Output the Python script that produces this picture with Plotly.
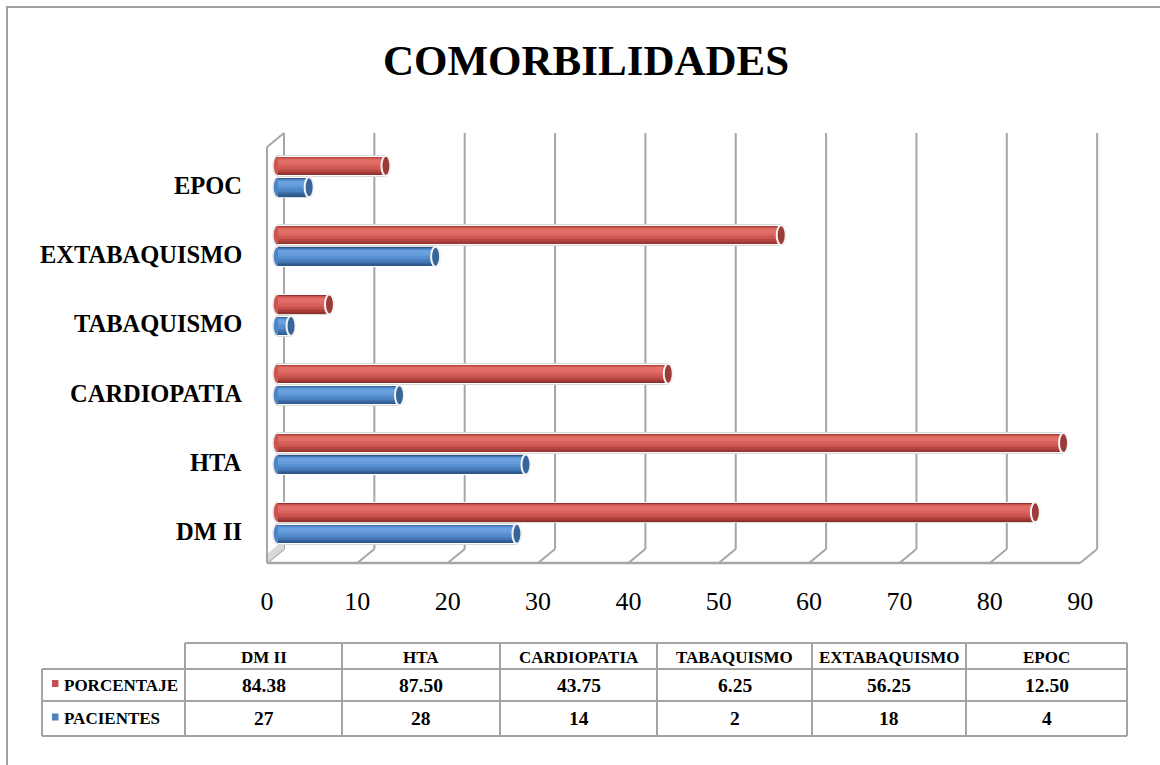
import plotly.graph_objects as go

# ---- data -------------------------------------------------------------
categorias = ["DM II", "HTA", "CARDIOPATIA", "TABAQUISMO", "EXTABAQUISMO", "EPOC"]
porcentaje = [84.38, 87.50, 43.75, 6.25, 56.25, 12.50]
pacientes = [27, 28, 14, 2, 18, 4]
series_nombres = ["PORCENTAJE", "PACIENTES"]
ticks_x = [0, 10, 20, 30, 40, 50, 60, 70, 80, 90]

# ---- geometry ---------------------------------------------------------
FIG_W, FIG_H = 1160, 765
ML, MR, MT, MB = 258, 50, 125, 195
X0_PX, SX = 273.0, 9.035      # pixel of value 0 on the bar plane, px per unit
Y0_PX, SY = 523.1, 69.3       # pixel of first category centre, px per category
FRONT_DX, BACK_DX = -6 / SX, 11 / SX


def vx(px):
    return (px - X0_PX) / SX


def cy(py):
    return (Y0_PX - py) / SY


def paper_x(px):
    return (px - ML) / (FIG_W - ML - MR)


def paper_y(py):
    return (FIG_H - MB - py) / (FIG_H - MT - MB)


FONT = "Liberation Serif"
GRID = "#a6a6a6"

fig = go.Figure()
shapes = []
annotations = []

# ---- 3D walls and floor -----------------------------------------------
y_front, y_back_bot, y_back_top, y_left_top = cy(563), cy(549), cy(133), cy(147)
for t in ticks_x:
    shapes.append(dict(type="line", xref="x", yref="y", layer="below",
                       x0=t + BACK_DX, x1=t + BACK_DX, y0=y_back_bot, y1=y_back_top,
                       line=dict(color=GRID, width=2)))
    shapes.append(dict(type="line", xref="x", yref="y", layer="below",
                       x0=t + FRONT_DX, x1=t + BACK_DX, y0=y_front, y1=y_back_bot,
                       line=dict(color=GRID, width=2)))
shapes.append(dict(type="line", xref="x", yref="y", layer="below",
                   x0=ticks_x[0] + FRONT_DX, x1=ticks_x[-1] + FRONT_DX, y0=y_front, y1=y_front,
                   line=dict(color=GRID, width=2.5)))
shapes.append(dict(type="path", xref="x", yref="y", layer="below",
                   path=(f"M {FRONT_DX},{y_front} L {BACK_DX},{y_back_bot} "
                         f"L {BACK_DX},{cy(540)} L {FRONT_DX},{cy(554)} Z"),
                   fillcolor="#d9d9d9", line=dict(width=0)))
shapes.append(dict(type="line", xref="x", yref="y", layer="below",
                   x0=FRONT_DX, x1=FRONT_DX, y0=y_front, y1=y_left_top,
                   line=dict(color=GRID, width=2)))
shapes.append(dict(type="line", xref="x", yref="y", layer="below",
                   x0=FRONT_DX, x1=BACK_DX, y0=y_left_top, y1=y_back_top,
                   line=dict(color=GRID, width=2)))

# ---- cylinder bars ----------------------------------------------------
BAR_W = 18.5 / SY        # coloured body thickness
WHITE_W = 20 / SY
GRAY_W = 21.5 / SY
CAP_R = 4.5 / SX         # half width of the end ellipse
OFFSETS = [0.155, -0.155]

palettes = [
    dict(dark=(148, 50, 46), mid=(205, 84, 79), light=(226, 110, 104), cap="#9b3c38"),
    dict(dark=(46, 88, 138), mid=(76, 132, 198), light=(106, 160, 222), cap="#376599"),
]


def mix(a, b, t):
    return "rgb(%d,%d,%d)" % tuple(round(a[i] + (b[i] - a[i]) * t) for i in range(3))


N_LAYERS = 8
for values, off, pal in zip([porcentaje, pacientes], OFFSETS, palettes):
    centres = [i + off for i in range(len(categorias))]
    lengths = [v - CAP_R for v in values]
    # light outline around each cylinder
    for w, col in [(GRAY_W, "#d8d8d8"), (WHITE_W, "#ffffff")]:
        fig.add_trace(go.Bar(orientation="h", y=centres, x=lengths, base=CAP_R,
                             width=w, marker=dict(color=col, line=dict(width=0)),
                             hoverinfo="skip", showlegend=False))
    # shaded body: nested bands converge towards the highlight
    for k in range(N_LAYERS):
        t = k / (N_LAYERS - 1)
        lo_trim = 0.62 * t * BAR_W
        hi_trim = 0.16 * t * BAR_W
        band_lo = -BAR_W / 2 + lo_trim
        band_hi = BAR_W / 2 - hi_trim
        col = mix(pal["dark"], pal["mid"], min(1.0, 2.2 * t)) if t < 0.46 else \
            mix(pal["mid"], pal["light"], (t - 0.46) / 0.54)
        fig.add_trace(go.Bar(orientation="h",
                             y=[c + (band_lo + band_hi) / 2 for c in centres],
                             x=lengths, base=CAP_R, width=band_hi - band_lo,
                             marker=dict(color=col, line=dict(width=0)),
                             hoverinfo="skip", showlegend=False))
    for c, v in zip(centres, values):
        # rounded start of the cylinder
        shapes.append(dict(type="circle", xref="x", yref="y", layer="between",
                           x0=0, x1=2 * CAP_R, y0=c - WHITE_W / 2, y1=c + WHITE_W / 2,
                           fillcolor=mix(pal["mid"], pal["mid"], 0),
                           line=dict(color="#e6e6e6", width=1.5)))
        # end face
        shapes.append(dict(type="circle", xref="x", yref="y", layer="above",
                           x0=v - CAP_R, x1=v + CAP_R, y0=c - WHITE_W / 2, y1=c + WHITE_W / 2,
                           fillcolor=pal["cap"], line=dict(color="#f4f4f4", width=2)))

# ---- category labels --------------------------------------------------
for i, name in enumerate(categorias):
    annotations.append(dict(text=name, xref="paper", yref="y", x=paper_x(244), y=i,
                            yshift=-8.5, xanchor="right", yanchor="middle", showarrow=False,
                            font=dict(family=FONT, size=24.5, color="black", weight="bold")))

# ---- title ------------------------------------------------------------
annotations.append(dict(text="COMORBILIDADES", xref="paper", yref="paper",
                        x=paper_x(585.5), y=paper_y(60), xanchor="center", yanchor="middle",
                        showarrow=False,
                        font=dict(family=FONT, size=43, color="black", weight="bold")))

# ---- data table -------------------------------------------------------
TBL = "#a3a3a3"
col_edges = [185, 342, 500, 657, 812, 966, 1127]
row_edges = [643, 669, 701, 736]
left_edge = 42


def pline(x0, y0, x1, y1):
    shapes.append(dict(type="line", xref="paper", yref="paper",
                       x0=paper_x(x0), x1=paper_x(x1), y0=paper_y(y0), y1=paper_y(y1),
                       line=dict(color=TBL, width=2)))


pline(col_edges[0], row_edges[0], col_edges[-1], row_edges[0])
for ry in row_edges[1:]:
    pline(left_edge, ry, col_edges[-1], ry)
for cx in col_edges:
    pline(cx, row_edges[0], cx, row_edges[-1])
pline(left_edge, row_edges[1], left_edge, row_edges[-1])

for j, name in enumerate(categorias):
    xc = (col_edges[j] + col_edges[j + 1]) / 2
    annotations.append(dict(text=name, xref="paper", yref="paper", x=paper_x(xc),
                            y=paper_y((row_edges[0] + row_edges[1]) / 2 + 1),
                            xanchor="center", yanchor="middle", showarrow=False,
                            font=dict(family=FONT, size=17, color="black", weight="bold")))

row_texts = [["%.2f" % v for v in porcentaje], ["%d" % v for v in pacientes]]
key_colors = ["#c0504d", "#4f81bd"]
for r in range(2):
    yc = (row_edges[r + 1] + row_edges[r + 2]) / 2
    shapes.append(dict(type="rect", xref="paper", yref="paper",
                       x0=paper_x(52), x1=paper_x(58.5), y0=paper_y(yc - 5), y1=paper_y(yc + 2),
                       fillcolor=key_colors[r], line=dict(width=0)))
    annotations.append(dict(text=series_nombres[r], xref="paper", yref="paper",
                            x=paper_x(62), y=paper_y(yc), xanchor="left", yanchor="middle",
                            showarrow=False,
                            font=dict(family=FONT, size=17, color="black", weight="bold")))
    for j, txt in enumerate(row_texts[r]):
        xc = (col_edges[j] + col_edges[j + 1]) / 2
        annotations.append(dict(text=txt, xref="paper", yref="paper", x=paper_x(xc),
                                y=paper_y(yc), xanchor="center", yanchor="middle",
                                showarrow=False,
                                font=dict(family=FONT, size=19.5, color="black", weight="bold")))

# ---- outer frame ------------------------------------------------------
shapes.append(dict(type="rect", xref="paper", yref="paper",
                   x0=paper_x(7), x1=paper_x(1175), y0=paper_y(7), y1=paper_y(780),
                   line=dict(color="#a0a0a0", width=2), fillcolor="rgba(0,0,0,0)"))

fig.update_layout(
    width=FIG_W, height=FIG_H,
    margin=dict(l=ML, r=MR, t=MT, b=MB, pad=0),
    paper_bgcolor="white", plot_bgcolor="white",
    barmode="overlay", bargap=0,
    showlegend=False,
    xaxis=dict(range=[vx(ML), vx(FIG_W - MR)], tickvals=ticks_x,
               ticktext=[str(t) for t in ticks_x],
               showgrid=False, zeroline=False, showline=False, ticks="",
               ticklabelshift=-6, ticklabelstandoff=13,
               tickfont=dict(family=FONT, size=26, color="black")),
    yaxis=dict(range=[cy(FIG_H - MB), cy(MT)], showticklabels=False,
               showgrid=False, zeroline=False, showline=False),
    shapes=shapes,
    annotations=annotations,
)

fig.write_html("out.html")
